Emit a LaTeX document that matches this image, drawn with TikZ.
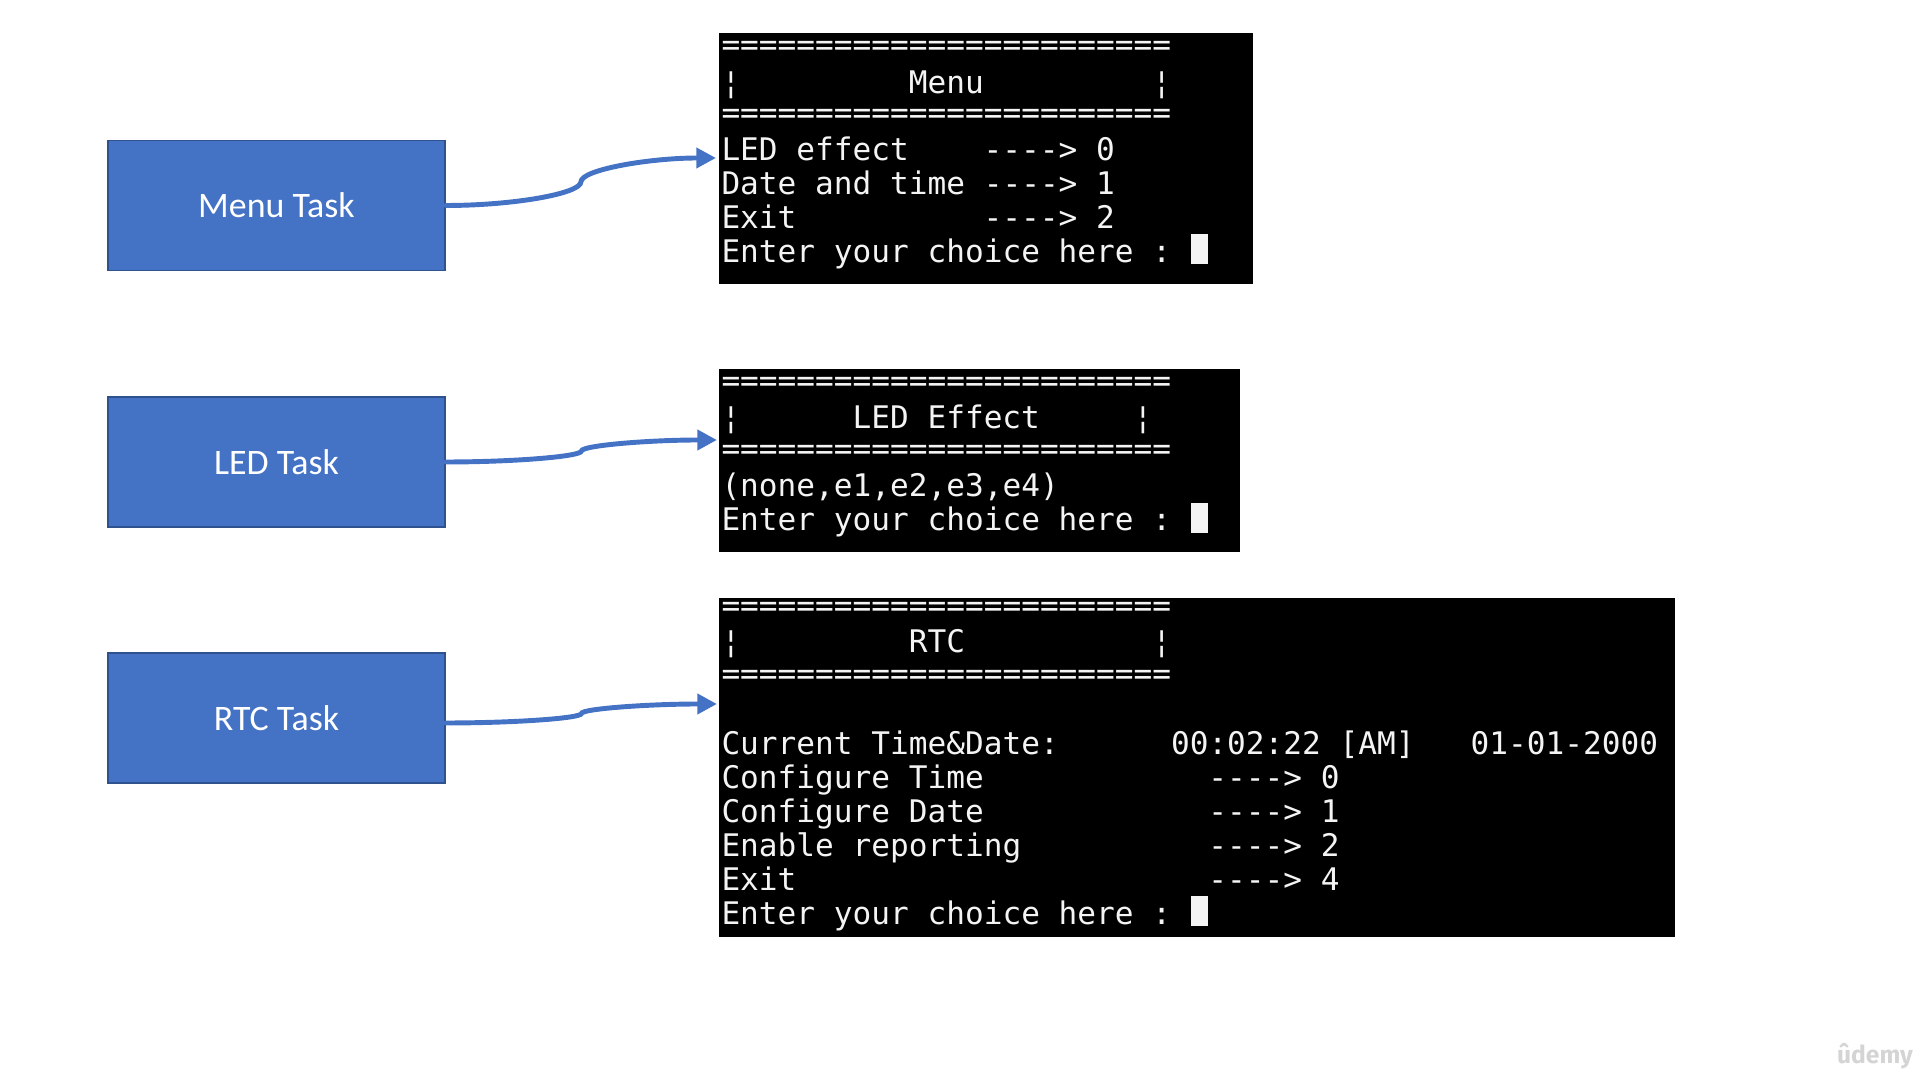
\documentclass[tikz,border=0pt]{standalone}
\usepackage{fontspec}
\setmainfont{Carlito}
\newfontfamily\termfont{DejaVu Sans Mono}
\newfontfamily\wmfont{Fira Sans}
\usetikzlibrary{arrows.meta,calc}
\definecolor{taskblue}{HTML}{4472C4}
\definecolor{taskborder}{HTML}{2F528F}
\definecolor{arrowblue}{HTML}{4472C4}
\definecolor{termtext}{HTML}{F4F4F4}
\definecolor{wmgray}{HTML}{D4D4D4}
\tikzset{
  task/.style={draw=taskborder, line width=0.5pt, fill=taskblue, text=white,
    font=\fontsize{10.2}{12}\selectfont, minimum width=3.37cm, minimum height=1.30cm, inner sep=0pt},
  term/.style={fill=black, draw=none, inner sep=0pt, outer sep=0pt},
  tline/.style={anchor=base west, inner sep=0pt, outer sep=0pt, text=termtext,
    font=\termfont\fontsize{8.85}{10}\selectfont},
  cursorbox/.style={fill=termtext, draw=none, anchor=south west, inner sep=0pt,
    minimum width=0.17cm, minimum height=0.30cm},
  conn/.style={draw=arrowblue, line width=1.4pt, line cap=round,
    -{Triangle[length=5.6pt,width=5.6pt]}},
}
\def\xo{721.5}
\def\cw{18.73}
\begin{document}
\begin{tikzpicture}[x=0.01cm,y=-0.01cm]
\path[use as bounding box] (0,0) rectangle (1920,1080);

% task boxes
\node[task] (menutask) at (276.5,205.5) {Menu Task};
\node[task] (ledtask) at (276.5,462) {LED Task};
\node[task] (rtctask) at (276.5,718) {RTC Task};

% terminal windows
\node[term, minimum width=5.34cm, minimum height=2.51cm] (menuterm) at (986,158.5) {};
\node[term, minimum width=5.21cm, minimum height=1.83cm] (ledterm) at (979.5,460.5) {};
\node[term, minimum width=9.56cm, minimum height=3.39cm] (rtcterm) at (1197,767.5) {};

% ---- Menu terminal
\node[tline] (m0) at (\xo,56) {========================};
\node[tline] (m1a) at (\xo,93.4) {¦};
\node[tline] (m1b) at (\xo+10*\cw,93.4) {Menu};
\node[tline] (m1c) at (\xo+23*\cw,93.4) {¦};
\node[tline] (m2) at (\xo,123.7) {========================};
\node[tline] (m3a) at (\xo,161) {LED effect};
\node[tline] (m3b) at (\xo+14*\cw,161) {----> 0};
\node[tline] (m4) at (\xo,194.8) {Date and time ----> 1};
\node[tline] (m5a) at (\xo,228.6) {Exit};
\node[tline] (m5b) at (\xo+14*\cw,228.6) {----> 2};
\node[tline] (m6) at (\xo,262.4) {Enter your choice here :};
\node[cursorbox] (mcur) at (\xo+25*\cw+1,264.5) {};

% ---- LED terminal
\node[tline] (l0) at (\xo,391.6) {========================};
\node[tline] (l1a) at (\xo,429) {¦};
\node[tline] (l1b) at (\xo+7*\cw,429) {LED Effect};
\node[tline] (l1c) at (\xo+22*\cw,429) {¦};
\node[tline] (l2) at (\xo,459.6) {========================};
\node[tline] (l3) at (\xo,497) {(none,e1,e2,e3,e4)};
\node[tline] (l4) at (\xo,531) {Enter your choice here :};
\node[cursorbox] (lcur) at (\xo+25*\cw+1,534) {};

% ---- RTC terminal
\node[tline] (r0) at (\xo,616.5) {========================};
\node[tline] (r1a) at (\xo,653) {¦};
\node[tline] (r1b) at (\xo+10*\cw,653) {RTC};
\node[tline] (r1c) at (\xo+23*\cw,653) {¦};
\node[tline] (r2) at (\xo,684.3) {========================};
\node[tline] (r4a) at (\xo,754.7) {Current Time\&Date:};
\node[tline] (r4b) at (\xo+24*\cw,754.7) {00:02:22 [AM]};
\node[tline] (r4c) at (\xo+40*\cw,754.7) {01-01-2000};
\node[tline] (r5a) at (\xo,788.6) {Configure Time};
\node[tline] (r5b) at (\xo+26*\cw,788.6) {----> 0};
\node[tline] (r6a) at (\xo,822.5) {Configure Date};
\node[tline] (r6b) at (\xo+26*\cw,822.5) {----> 1};
\node[tline] (r7a) at (\xo,856.4) {Enable reporting};
\node[tline] (r7b) at (\xo+26*\cw,856.4) {----> 2};
\node[tline] (r8a) at (\xo,890.3) {Exit};
\node[tline] (r8b) at (\xo+26*\cw,890.3) {----> 4};
\node[tline] (r9) at (\xo,924.2) {Enter your choice here :};
\node[cursorbox] (rcur) at (\xo+25*\cw+1,927) {};

% connector end points
\coordinate (menuin) at (716,158);
\coordinate (ledin) at (717,440);
\coordinate (rtcin) at (717,704);
\coordinate (rtcout) at ($(rtctask.east)+(0,5)$);

% curved connectors
\draw[conn] let \p1=(menutask.east), \p2=(menuin) in
  (\p1) .. controls ({0.75*\x1+0.25*\x2},\y1) and ({0.5*\x1+0.5*\x2},{0.75*\y1+0.25*\y2}) ..
  ({0.5*\x1+0.5*\x2},{0.5*\y1+0.5*\y2}) .. controls ({0.5*\x1+0.5*\x2},{0.25*\y1+0.75*\y2}) and ({0.25*\x1+0.75*\x2},\y2) .. (\p2);
\draw[conn] let \p1=(ledtask.east), \p2=(ledin) in
  (\p1) .. controls ({0.75*\x1+0.25*\x2},\y1) and ({0.5*\x1+0.5*\x2},{0.75*\y1+0.25*\y2}) ..
  ({0.5*\x1+0.5*\x2},{0.5*\y1+0.5*\y2}) .. controls ({0.5*\x1+0.5*\x2},{0.25*\y1+0.75*\y2}) and ({0.25*\x1+0.75*\x2},\y2) .. (\p2);
\draw[conn] let \p1=(rtcout), \p2=(rtcin) in
  (\p1) .. controls ({0.75*\x1+0.25*\x2},\y1) and ({0.5*\x1+0.5*\x2},{0.75*\y1+0.25*\y2}) ..
  ({0.5*\x1+0.5*\x2},{0.5*\y1+0.5*\y2}) .. controls ({0.5*\x1+0.5*\x2},{0.25*\y1+0.75*\y2}) and ({0.25*\x1+0.75*\x2},\y2) .. (\p2);

% watermark
\node[text=wmgray, font=\wmfont\bfseries\fontsize{7}{8}\selectfont, inner sep=0pt] (wm) at (1875,1056) {ûdemy};
\end{tikzpicture}
\end{document}
